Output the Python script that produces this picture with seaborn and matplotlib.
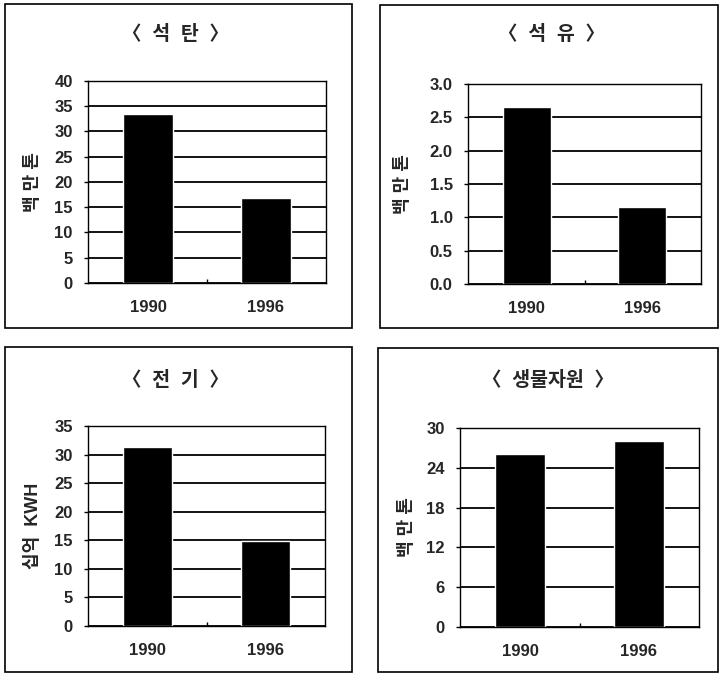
import matplotlib
matplotlib.use('Agg')
import matplotlib.pyplot as plt
import seaborn as sns
from matplotlib.patches import Rectangle

sns.set_theme(style='white')
plt.rcParams['font.family'] = ['Liberation Sans', 'Noto Sans CJK KR', 'DejaVu Sans']
plt.rcParams['font.weight'] = 'bold'

years = ['1990', '1996']
coal = [33.4, 16.8]
oil = [2.65, 1.15]
power = [31.3, 14.9]
biomass = [26.1, 28.0]

titles = ['〈  석  탄  〉', '〈  석  유  〉', '〈  전  기  〉', '〈  생물자원  〉']
ylabels = ['백 만 톤', '백 만 톤', '십억  KWH', '백 만 톤']
yticks = [[0, 5, 10, 15, 20, 25, 30, 35, 40],
          [0.0, 0.5, 1.0, 1.5, 2.0, 2.5, 3.0],
          [0, 5, 10, 15, 20, 25, 30, 35],
          [0, 6, 12, 18, 24, 30]]
series = [coal, oil, power, biomass]

W, H = 719, 675
fig = plt.figure(figsize=(W / 100, H / 100), dpi=100)

# pixel layout: axes box, panel frame, title pos, ylabel x
axes_px = [(88, 81, 326, 283), (468, 84, 701, 284),
           (88, 426, 325, 626), (460, 428, 699, 627)]
frames_px = [(5, 4, 352, 328), (380, 5, 718, 328),
             (5, 347, 352, 672), (378, 348, 718, 672)]
title_px = [(176, 35), (552, 35), (176, 380), (548, 380)]
ylab_x = [33, 403, 33, 407]

for i in range(4):
    x0, y0, x1, y1 = frames_px[i]
    fig.patches.append(Rectangle((x0 / W, 1 - y1 / H), (x1 - x0) / W, (y1 - y0) / H,
                                 transform=fig.transFigure, fill=False,
                                 edgecolor='black', lw=1.2))

    l, t, r, b = axes_px[i]
    ax = fig.add_axes([l / W, 1 - b / H, (r - l) / W, (b - t) / H])
    sns.barplot(x=years, y=series[i], color='black', saturation=1,
                width=0.42, ax=ax)
    ax.set_xlim(-0.51, 1.51)
    ticks = yticks[i]
    ax.set_ylim(ticks[0], ticks[-1])
    ax.set_yticks(ticks)
    if i == 1:
        ax.set_yticklabels([f'{v:.1f}' for v in ticks])
    ax.set_axisbelow(True)
    ax.yaxis.grid(True, color='black', lw=1.3)
    for s in ax.spines.values():
        s.set_color('black')
        s.set_linewidth(1.0)
    ax.tick_params(axis='y', length=3, width=1, color='black', pad=8,
                   labelsize=12, left=True)
    ax.tick_params(axis='x', length=0, pad=12, labelsize=12)
    ax.set_xticks([0.5], minor=True)
    ax.tick_params(axis='x', which='minor', length=3, direction='in',
                   width=1, color='black', bottom=True)
    for lab in ax.get_xticklabels() + ax.get_yticklabels():
        lab.set_fontweight('bold')
    ax.set_xlabel('')
    ax.set_ylabel('')

    tx, ty = title_px[i]
    fig.text(tx / W, 1 - ty / H, titles[i], ha='center', va='center',
             fontsize=14, fontweight='bold')
    fig.text(ylab_x[i] / W, 1 - ((t + b) / 2) / H, ylabels[i], rotation=90,
             ha='center', va='center', fontsize=13, fontweight='bold')

fig.savefig('out.png', dpi=100, facecolor='white')
